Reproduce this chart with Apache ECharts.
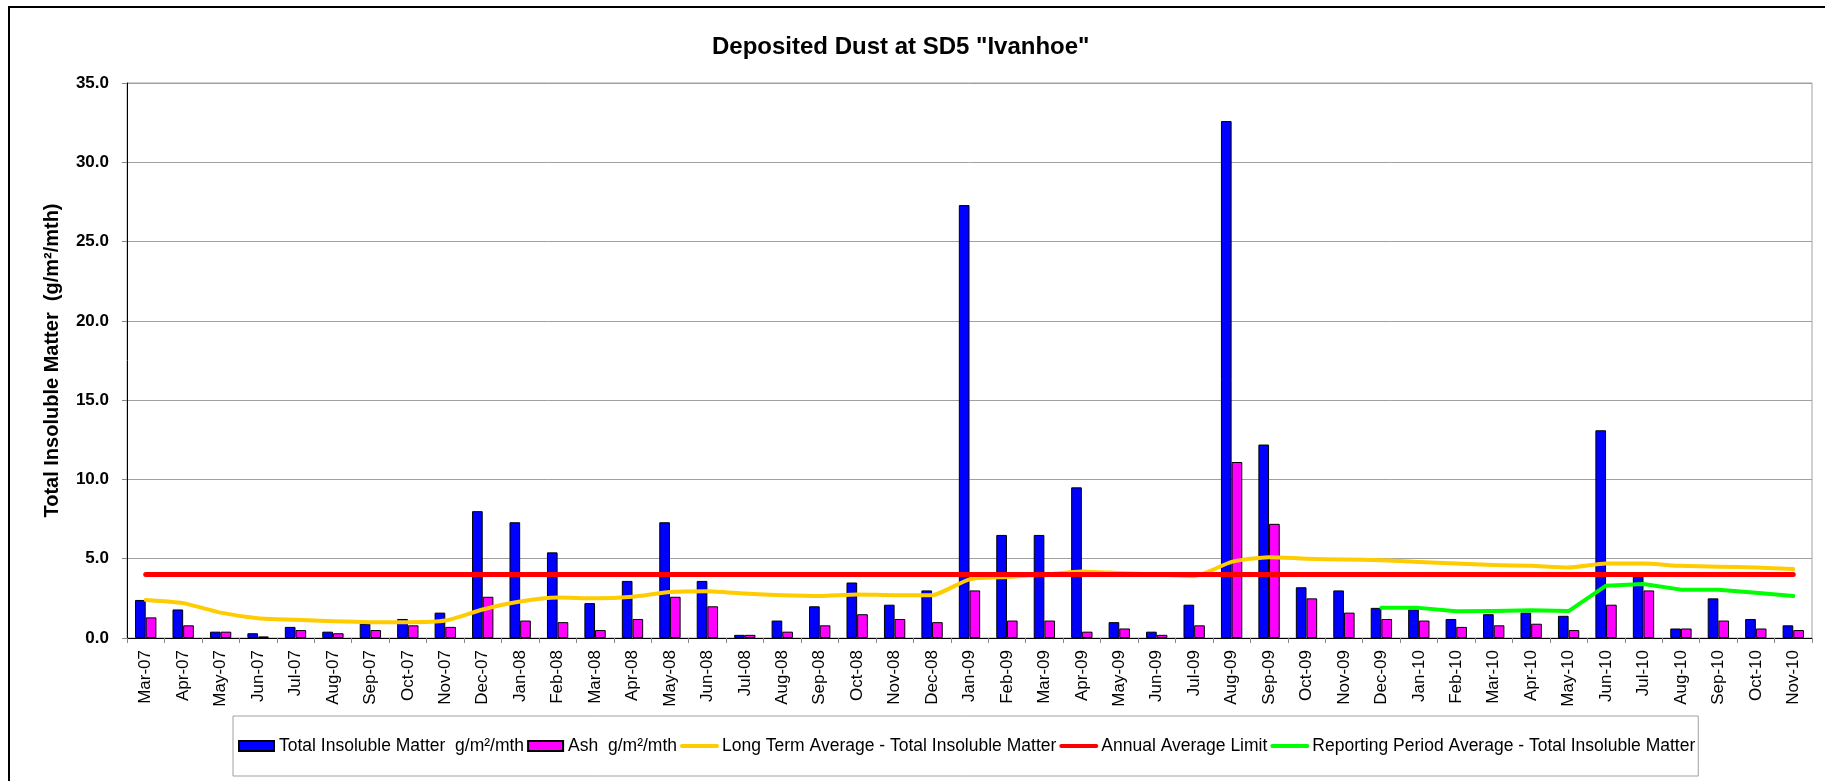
<!DOCTYPE html>
<html>
<head>
<meta charset="utf-8">
<script src="https://cdn.jsdelivr.net/npm/echarts@6/dist/echarts.min.js"></script>
<style>
  html, body { margin: 0; padding: 0; background: #fff; }
  #chart { width: 1825px; height: 781px; }
</style>
</head>
<body>
<div id="chart"></div>
<script>
const months = [
  'Mar-07', 'Apr-07', 'May-07', 'Jun-07', 'Jul-07', 'Aug-07', 'Sep-07', 'Oct-07', 'Nov-07', 'Dec-07',
  'Jan-08', 'Feb-08', 'Mar-08', 'Apr-08', 'May-08', 'Jun-08', 'Jul-08', 'Aug-08', 'Sep-08', 'Oct-08', 'Nov-08', 'Dec-08',
  'Jan-09', 'Feb-09', 'Mar-09', 'Apr-09', 'May-09', 'Jun-09', 'Jul-09', 'Aug-09', 'Sep-09', 'Oct-09', 'Nov-09', 'Dec-09',
  'Jan-10', 'Feb-10', 'Mar-10', 'Apr-10', 'May-10', 'Jun-10', 'Jul-10', 'Aug-10', 'Sep-10', 'Oct-10', 'Nov-10'
]
const totalInsoluble = [
  2.4, 1.8, 0.4, 0.3, 0.7, 0.4, 0.9, 1.2, 1.6, 8.0,
  7.3, 5.4, 2.2, 3.6, 7.3, 3.6, 0.2, 1.1, 2.0, 3.5, 2.1, 3.0,
  27.3, 6.5, 6.5, 9.5, 1.0, 0.4, 2.1, 32.6, 12.2, 3.2, 3.0, 1.9,
  1.8, 1.2, 1.5, 1.6, 1.4, 13.1, 3.9, 0.6, 2.5, 1.2, 0.8
]
const ash = [
  1.3, 0.8, 0.4, 0.1, 0.5, 0.3, 0.5, 0.8, 0.7, 2.6,
  1.1, 1.0, 0.5, 1.2, 2.6, 2.0, 0.2, 0.4, 0.8, 1.5, 1.2, 1.0,
  3.0, 1.1, 1.1, 0.4, 0.6, 0.2, 0.8, 11.1, 7.2, 2.5, 1.6, 1.2,
  1.1, 0.7, 0.8, 0.9, 0.5, 2.1, 3.0, 0.6, 1.1, 0.6, 0.5
]
const longTermAvg = [
  2.4, 2.2, 1.6, 1.25, 1.15, 1.05, 1.0, 1.0, 1.1, 1.8,
  2.3, 2.55, 2.5, 2.6, 2.9, 2.95, 2.8, 2.7, 2.65, 2.75, 2.7, 2.7,
  3.7, 3.85, 4.0, 4.2, 4.1, 4.0, 3.9, 4.8, 5.1, 5.0, 4.95, 4.9,
  4.8, 4.7, 4.6, 4.55, 4.45, 4.7, 4.7, 4.55, 4.5, 4.45, 4.35
]
const annualLimit = [
  4.0, 4.0, 4.0, 4.0, 4.0, 4.0, 4.0, 4.0, 4.0, 4.0,
  4.0, 4.0, 4.0, 4.0, 4.0, 4.0, 4.0, 4.0, 4.0, 4.0, 4.0, 4.0,
  4.0, 4.0, 4.0, 4.0, 4.0, 4.0, 4.0, 4.0, 4.0, 4.0, 4.0, 4.0,
  4.0, 4.0, 4.0, 4.0, 4.0, 4.0, 4.0, 4.0, 4.0, 4.0, 4.0
]
const reportingAvg = [
  null, null, null, null, null, null, null, null, null, null,
  null, null, null, null, null, null, null, null, null, null, null, null,
  null, null, null, null, null, null, null, null, null, null, null, 1.9,
  1.9, 1.68, 1.7, 1.75, 1.7, 3.3, 3.4, 3.05, 3.05, 2.85, 2.65
]
const yTicks = { min: 0, max: 35, interval: 5 }

const font = "'Liberation Sans', Arial, sans-serif"
const chart = echarts.init(document.getElementById('chart'))

const barStyle = (color) => ({ color, borderColor: '#000', borderWidth: 1 })
const lineSeries = (name, data, color, width) => ({
  name,
  type: 'line',
  data,
  symbol: 'none',
  connectNulls: false,
  lineStyle: { color, width, cap: 'round', join: 'round' },
  itemStyle: { color },
})
// legend entries for the lines: just the stroke, no marker dot
const lineLegend = (name) => ({ name, itemStyle: { opacity: 0 }, lineStyle: { width: 4 } })

chart.setOption({
  animation: false,
  textStyle: { fontFamily: font },
  title: {
    text: 'Deposited Dust at SD5 "Ivanhoe"',
    left: 712,
    top: 35,
    padding: 0,
    textStyle: { fontSize: 24, fontWeight: 'bold', color: '#000', fontFamily: font },
  },
  graphic: [
    {
      type: 'polyline',
      shape: { points: [[9, 781], [9, 7], [1825, 7]] },
      style: { stroke: '#000', lineWidth: 2, fill: null },
    },
  ],
  grid: {
    left: 127,
    right: 13,
    top: 83,
    bottom: 143,
    show: true,
    borderColor: '#a0a0a0',
    borderWidth: 1,
  },
  legend: {
    left: 233,
    top: 716,
    itemGap: 3,
    itemWidth: 35,
    itemHeight: 10,
    padding: [21, 3, 21, 5],
    borderColor: '#a0a0a0',
    borderWidth: 1,
    textStyle: { fontSize: 17.5, color: '#000', fontFamily: font },
    data: [
      { name: 'Total Insoluble Matter  g/m²/mth', icon: 'rect' },
      { name: 'Ash  g/m²/mth', icon: 'rect' },
      lineLegend('Long Term Average - Total Insoluble Matter'),
      lineLegend('Annual Average Limit'),
      lineLegend('Reporting Period Average - Total Insoluble Matter'),
    ],
  },
  xAxis: {
    type: 'category',
    data: months,
    boundaryGap: true,
    axisLine: { lineStyle: { color: '#000', width: 1 } },
    axisTick: { show: true, interval: 0, length: 5, lineStyle: { color: '#888' } },
    axisLabel: { interval: 0, rotate: 90, margin: 12, fontSize: 17, color: '#000', fontFamily: font },
    splitLine: { show: false },
  },
  yAxis: {
    type: 'value',
    min: yTicks.min,
    max: yTicks.max,
    interval: yTicks.interval,
    name: 'Total Insoluble Matter  (g/m²/mth)',
    nameLocation: 'middle',
    nameGap: 65,
    nameTextStyle: { fontSize: 20, fontWeight: 'bold', color: '#000', fontFamily: font },
    axisLine: { show: true, lineStyle: { color: '#000', width: 1 } },
    axisTick: { show: true, length: 5, lineStyle: { color: '#888' } },
    axisLabel: {
      margin: 18,
      fontSize: 17,
      fontWeight: 'bold',
      color: '#000',
      fontFamily: font,
      formatter: (v) => v.toFixed(1),
    },
    splitLine: { show: true, lineStyle: { color: '#a0a0a0', width: 1 } },
  },
  series: [
    {
      name: 'Total Insoluble Matter  g/m²/mth',
      type: 'bar',
      data: totalInsoluble,
      barGap: '0%',
      barCategoryGap: '43%',
      itemStyle: barStyle('#0000ff'),
    },
    {
      name: 'Ash  g/m²/mth',
      type: 'bar',
      data: ash,
      barGap: '0%',
      barCategoryGap: '43%',
      itemStyle: barStyle('#ff00ff'),
    },
    { ...lineSeries('Long Term Average - Total Insoluble Matter', longTermAvg, '#ffcc00', 4), smooth: 0.2 },
    lineSeries('Annual Average Limit', annualLimit, '#ff0000', 5),
    lineSeries('Reporting Period Average - Total Insoluble Matter', reportingAvg, '#00ff00', 4),
  ],
})
</script>
</body>
</html>
